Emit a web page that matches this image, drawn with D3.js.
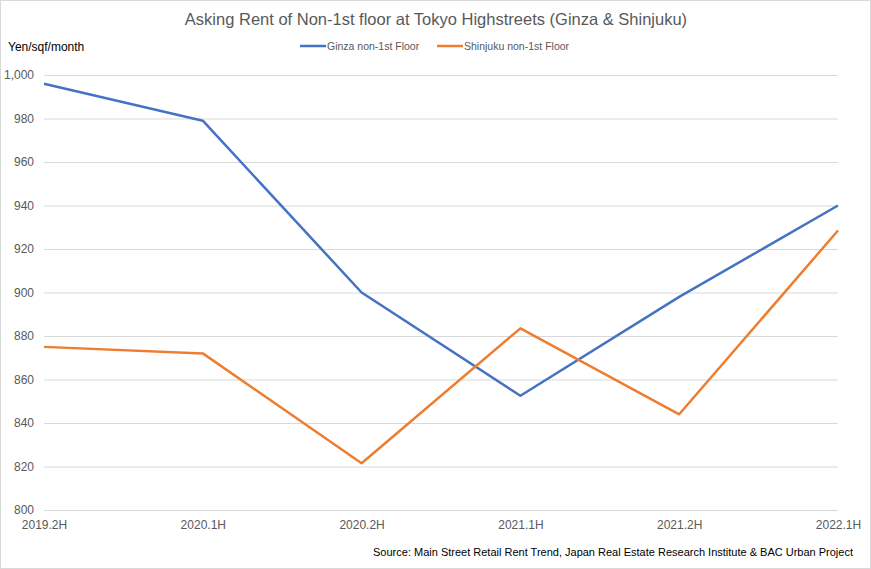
<!DOCTYPE html>
<html>
<head>
<meta charset="utf-8">
<script src="https://cdn.jsdelivr.net/npm/d3@7"></script>
<style>
  body { margin: 0; background: #fff; }
  svg { font-family: "Liberation Sans", Arial, sans-serif; }
  .grid line { stroke: #d9d9d9; stroke-width: 1; }
  .axis text { fill: #595959; font-size: 12px; }
</style>
</head>
<body>
<svg id="chart" width="871" height="569"></svg>
<script>
// data
var periods = ["2019.2H", "2020.1H", "2020.2H", "2021.1H", "2021.2H", "2022.1H"];
var ginza = [996, 979, 900, 852.5, 898, 940];
var shinjuku = [875, 872, 821.5, 883.5, 844, 928.5];
var seriesNames = ["Ginza non-1st Floor", "Shinjuku non-1st Floor"];
var yTicks = [800, 820, 840, 860, 880, 900, 920, 940, 960, 980, 1000];

var colors = ["#4472C4", "#ED7D31"];
var width = 871, height = 569;
var plot = {left: 44, right: 838, top: 75, bottom: 510};

var svg = d3.select("#chart");

// chart frame
svg.append("rect")
    .attr("x", 0.5).attr("y", 0.5)
    .attr("width", width - 1).attr("height", height - 1)
    .attr("fill", "#fff")
    .attr("stroke", "#d9d9d9");

var x = d3.scalePoint()
    .domain(periods)
    .range([plot.left, plot.right]);

var y = d3.scaleLinear()
    .domain([800, 1000])
    .range([plot.bottom, plot.top]);

// gridlines
svg.append("g")
    .attr("class", "grid")
    .selectAll("line")
    .data(yTicks)
  .enter().append("line")
    .attr("x1", plot.left).attr("x2", plot.right)
    .attr("y1", function(d) { return y(d) + 0.5; })
    .attr("y2", function(d) { return y(d) + 0.5; });

// y axis labels
var yAxis = svg.append("g")
    .attr("class", "axis")
    .attr("transform", "translate(" + (plot.left - 10) + ",0)")
    .call(d3.axisLeft(y).tickValues(yTicks).tickSize(0).tickPadding(0)
      .tickFormat(d3.format(",")));
yAxis.select(".domain").remove();

// x axis labels
var xAxis = svg.append("g")
    .attr("class", "axis")
    .attr("transform", "translate(0," + (plot.bottom + 8) + ")")
    .call(d3.axisBottom(x).tickSize(0).tickPadding(0));
xAxis.select(".domain").remove();
xAxis.selectAll("text").attr("dy", "0.9em");

var line = d3.line()
    .x(function(d, i) { return x(periods[i]); })
    .y(function(d) { return y(d); });

[ginza, shinjuku].forEach(function(s, i) {
  svg.append("path")
      .datum(s)
      .attr("fill", "none")
      .attr("stroke", colors[i])
      .attr("stroke-width", 2.5)
      .attr("stroke-linejoin", "round")
      .attr("d", line);
});

// title
svg.append("text")
    .attr("x", 436).attr("y", 25)
    .attr("text-anchor", "middle")
    .attr("fill", "#595959")
    .attr("font-size", "16.5px")
    .text("Asking Rent of Non-1st floor at Tokyo Highstreets (Ginza & Shinjuku)");

// unit label
svg.append("text")
    .attr("x", 8).attr("y", 51)
    .attr("fill", "#000")
    .attr("font-size", "12px")
    .text("Yen/sqf/month");

// legend
var legendX = [300, 437];
var legend = svg.selectAll(".legend")
    .data(seriesNames)
  .enter().append("g")
    .attr("class", "legend")
    .attr("transform", function(d, i) { return "translate(" + legendX[i] + ",46)"; });
legend.append("line")
    .attr("x1", 0).attr("x2", 26)
    .attr("stroke", function(d, i) { return colors[i]; })
    .attr("stroke-width", 2.5);
legend.append("text")
    .attr("x", 27).attr("y", 3.5)
    .attr("fill", "#595959")
    .attr("font-size", "10.5px")
    .text(function(d) { return d; });

// source
svg.append("text")
    .attr("x", 853).attr("y", 556)
    .attr("text-anchor", "end")
    .attr("fill", "#000")
    .attr("font-size", "11px")
    .text("Source: Main Street Retail Rent Trend, Japan Real Estate Research Institute & BAC Urban Project");
</script>
</body>
</html>
